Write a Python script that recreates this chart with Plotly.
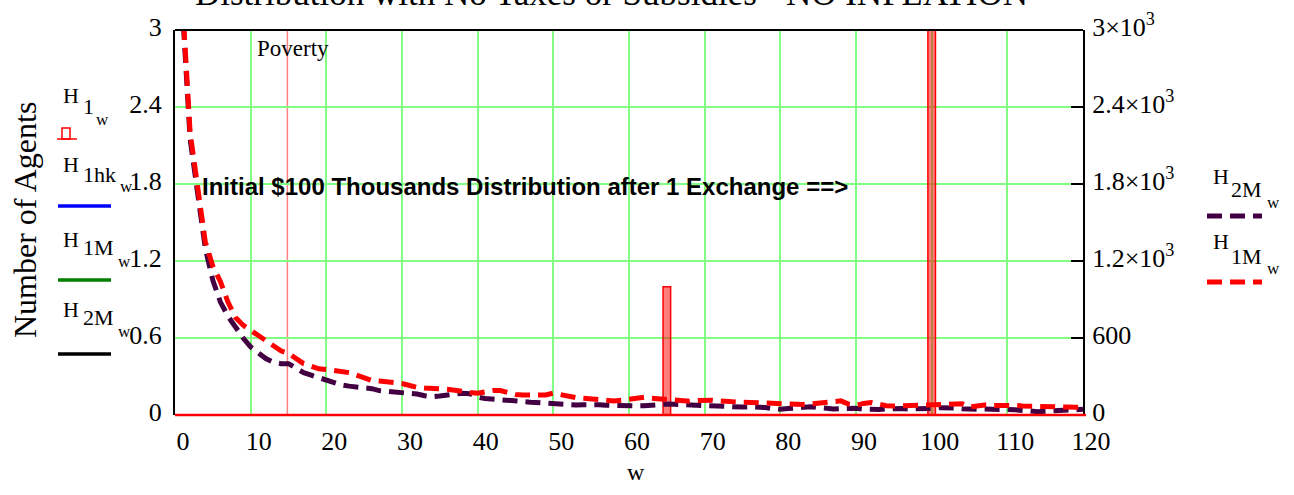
import plotly.graph_objects as go

# wealth bins (thousands of dollars)
w = list(range(0, 121))

# agent counts per bin, right axis
H1M_w = [12000, 3200, 2200, 1750, 1350, 1160, 1040, 880, 760, 700,
         660, 610, 570, 530, 500, 480, 440, 400, 380, 360,
         355, 345, 335, 330, 310, 290, 270, 265, 260, 255,
         245, 230, 215, 210, 210, 205, 200, 195, 185, 175,
         170, 180, 190, 190, 175, 160, 156, 155, 155, 156,
         170, 155, 140, 135, 130, 125, 117, 115, 110, 115,
         125, 135, 138, 130, 125, 120, 110, 104, 108, 112,
         117, 115, 110, 104, 100, 99, 98, 95, 92, 90,
         86, 82, 78, 82, 86, 90, 95, 100, 110, 85,
         75, 90, 98, 85, 72, 70, 72, 74, 75, 77,
         78, 80, 82, 85, 88, 62, 70, 78, 75, 76,
         78, 75, 70, 70, 68, 66, 65, 64, 62, 60, 60]

H2M_w = [12000, 3150, 2150, 1700, 1300, 1050, 880, 770, 680, 600,
         530, 480, 440, 410, 400, 400, 360, 330, 310, 290,
         270, 250, 235, 225, 220, 215, 205, 190, 185, 180,
         175, 170, 163, 150, 142, 148, 156, 165, 170, 165,
         140, 128, 125, 122, 120, 110, 105, 100, 95, 90,
         90, 85, 80, 78, 80, 83, 80, 76, 73, 72,
         72, 72, 72, 78, 82, 85, 83, 80, 78, 74,
         70, 65, 63, 61, 60, 62, 64, 65, 58, 50,
         44, 50, 58, 63, 65, 58, 50, 47, 50, 52,
         52, 46, 40, 42, 48, 52, 50, 47, 45, 44,
         50, 56, 60, 55, 48, 44, 45, 46, 47, 45,
         42, 40, 39, 32, 26, 28, 30, 31, 35, 40, 44]

# initial distribution after one exchange: only non-empty bins listed
H1_counts = {65: 1, 100: 2998}
H1_w = [H1_counts.get(k, 0) for k in w]

poverty = 14.85

x_ticks = list(range(0, 121, 10))
left_ticks = [0, 0.6, 1.2, 1.8, 2.4, 3]
left_labels = ["0", "0.6", "1.2", "1.8", "2.4", "3"]
right_ticks = [0, 600, 1200, 1800, 2400, 3000]
right_labels = ["0", "600", "1.2×10<sup>3</sup>", "1.8×10<sup>3</sup>",
                "2.4×10<sup>3</sup>", "3×10<sup>3</sup>"]

SERIF = "Liberation Serif, Times New Roman, serif"
SANS = "Liberation Sans, Arial, sans-serif"
GRID = "#80FF80"
PURPLE = "#420042"
DASH = "15px,8px"

W, H = 1294, 495
ML, MR, MT, MB = 175, 211, 30, 80
PW, PH = W - ML - MR, H - MT - MB


def px(x):
    return (x - ML) / PW


def py(y):
    return (H - MB - y) / PH


fig = go.Figure()

fig.add_trace(go.Scatter(
    x=w, y=H1_w, mode="lines", name="H1_w", yaxis="y",
    line=dict(shape="hvh", color="red", width=1.5),
    fill="tozeroy", fillcolor="rgba(255,0,0,0.5)", showlegend=False))

fig.add_trace(go.Scatter(
    x=w, y=H2M_w, mode="lines", name="H2M_w", yaxis="y2",
    line=dict(color=PURPLE, width=5, dash=DASH), showlegend=False))

fig.add_trace(go.Scatter(
    x=w, y=H1M_w, mode="lines", name="H1M_w", yaxis="y2",
    line=dict(color="red", width=5, dash=DASH), showlegend=False))

shapes = [
    # poverty line
    dict(type="line", xref="x", yref="paper", x0=poverty, x1=poverty, y0=0, y1=1,
         line=dict(color="#FF8080", width=1.5), layer="below"),
    # frame top and red baseline
    dict(type="line", xref="paper", yref="paper", x0=0, x1=1, y0=1, y1=1,
         line=dict(color="black", width=2)),
    dict(type="line", xref="paper", yref="paper", x0=0, x1=px(1086), y0=0, y1=0,
         line=dict(color="red", width=2.5)),
    # left legend samples
    dict(type="rect", xref="paper", yref="paper", x0=px(62), x1=px(70), y0=py(139), y1=py(128),
         line=dict(color="red", width=1.5), fillcolor="white"),
    dict(type="line", xref="paper", yref="paper", x0=px(57), x1=px(77), y0=py(139), y1=py(139),
         line=dict(color="red", width=1.5)),
    dict(type="line", xref="paper", yref="paper", x0=px(58), x1=px(111), y0=py(206), y1=py(206),
         line=dict(color="blue", width=3.5)),
    dict(type="line", xref="paper", yref="paper", x0=px(58), x1=px(111), y0=py(280), y1=py(280),
         line=dict(color="green", width=3.5)),
    dict(type="line", xref="paper", yref="paper", x0=px(58), x1=px(111), y0=py(354), y1=py(354),
         line=dict(color="black", width=3.5)),
    # right legend samples
    dict(type="line", xref="paper", yref="paper", x0=px(1207), x1=px(1262), y0=py(216), y1=py(216),
         line=dict(color=PURPLE, width=5, dash=DASH)),
    dict(type="line", xref="paper", yref="paper", x0=px(1207), x1=px(1262), y0=py(282), y1=py(282),
         line=dict(color="red", width=5, dash=DASH)),
]

annotations = []


def note(text, x, y, size, family=SERIF, xanchor="left", yanchor="middle", **kw):
    annotations.append(dict(text=text, x=px(x), y=py(y), xref="paper", yref="paper",
                            xanchor=xanchor, yanchor=yanchor, showarrow=False,
                            font=dict(family=family, size=size, color="black"), **kw))


def sub_label(xh, yh, sub, xs, ys, xw, yw):
    note("H", xh, yh, 22)
    note(sub, xs, ys, 22)
    note("w", xw, yw, 17)


sub_label(61, 96, "1", 81, 107, 94, 120)
sub_label(61, 164, "1hk", 81, 174, 118, 186)
sub_label(61, 239, "1M", 81, 247, 116, 261)
sub_label(61, 309, "2M", 81, 317, 116, 331)
sub_label(1211, 176, "2M", 1229, 189, 1265, 202)
sub_label(1211, 242, "1M", 1229, 256, 1265, 268)

note("Distribution with No Taxes or Subsidies - NO INFLATION", 611, -6, 35, xanchor="center")
note("Poverty", 293, 48, 23, xanchor="center")
annotations.append(dict(text="Initial $100 Thousands Distribution after 1 Exchange ==>",
                        x=px(200), y=py(186), xref="paper", yref="paper",
                        xanchor="left", yanchor="middle", showarrow=False,
                        font=dict(family=SANS, size=24, color="black", weight="bold")))
note("Number of Agents", 25, 220, 32, xanchor="center", textangle=-90)
note("w", 636, 472, 24, xanchor="center")

tickfont = dict(family=SERIF, size=26, color="black")

fig.update_layout(
    width=W, height=H, template="none",
    margin=dict(l=ML, r=MR, t=MT, b=MB, pad=0),
    paper_bgcolor="white", plot_bgcolor="white",
    showlegend=False,
    shapes=shapes, annotations=annotations,
    xaxis=dict(range=[0, 120], tickvals=x_ticks, showgrid=True, gridcolor=GRID, gridwidth=1.5,
               zeroline=False, showline=False, ticks="", tickfont=tickfont,
               ticklabelshift=8, ticklabelstandoff=8, automargin=False),
    yaxis=dict(range=[0, 3], tickvals=left_ticks, ticktext=left_labels, showgrid=True,
               gridcolor=GRID, gridwidth=1.5, zeroline=False, showline=True,
               linecolor="black", linewidth=2, ticks="", tickfont=tickfont,
               ticklabelshift=-3, ticklabelstandoff=6, automargin=False),
    yaxis2=dict(range=[0, 3000], overlaying="y", side="right", tickvals=right_ticks,
                ticktext=right_labels, showgrid=False, zeroline=False, showline=True,
                linecolor="black", linewidth=2, ticks="inside", ticklen=12, tickwidth=2,
                tickcolor="black", tickfont=tickfont, ticklabelshift=-3,
                ticklabelstandoff=2, automargin=False),
)

fig.write_html("out.html")
